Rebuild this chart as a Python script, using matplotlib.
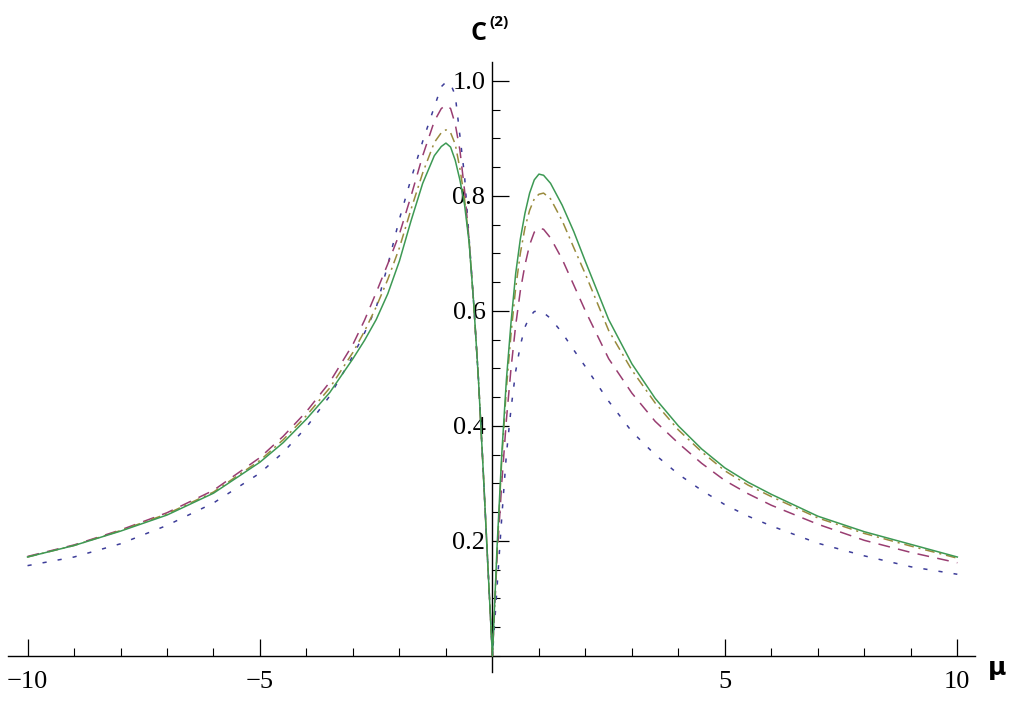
import matplotlib.pyplot as plt
from matplotlib.ticker import FixedLocator, MultipleLocator

plt.rcParams['lines.scale_dashes'] = False

# values (x = mu, y = C(2))
x_left = [-10, -9, -8, -7, -6, -5, -4.5, -4, -3.5, -3, -2.75, -2.5, -2.25, -2, -1.75,
          -1.5, -1.25, -1.1, -1.0, -0.9, -0.8, -0.7, -0.6, -0.5, -0.4, -0.3, -0.2, -0.1, 0]
x_right = [0, 0.1, 0.2, 0.3, 0.4, 0.5, 0.6, 0.7, 0.8, 0.9, 1.0, 1.1, 1.25, 1.5,
           1.75, 2, 2.5, 3, 3.5, 4, 4.5, 5, 5.5, 6, 7, 8, 9, 10]

blue_left = [0.157, 0.172, 0.195, 0.227, 0.266, 0.318, 0.354, 0.398, 0.452, 0.522,
             0.562, 0.606, 0.68, 0.76, 0.83, 0.895, 0.955, 0.99, 0.998, 0.995, 0.975,
             0.905, 0.835, 0.725, 0.61, 0.48, 0.325, 0.16, 0.0]
purple_left = [0.173, 0.193, 0.219, 0.249, 0.288, 0.345, 0.382, 0.425, 0.476, 0.542,
               0.584, 0.632, 0.682, 0.734, 0.80, 0.87, 0.93, 0.952, 0.958, 0.952,
               0.925, 0.88, 0.81, 0.722, 0.61, 0.48, 0.325, 0.16, 0.0]
olive_left = [0.172, 0.192, 0.218, 0.247, 0.285, 0.34, 0.376, 0.418, 0.466, 0.528,
              0.565, 0.607, 0.655, 0.71, 0.777, 0.84, 0.893, 0.91, 0.915, 0.91,
              0.89, 0.848, 0.795, 0.72, 0.61, 0.48, 0.325, 0.16, 0.0]
green_left = [0.172, 0.192, 0.217, 0.245, 0.283, 0.337, 0.371, 0.412, 0.458, 0.517,
              0.549, 0.585, 0.63, 0.687, 0.757, 0.822, 0.870, 0.886, 0.892, 0.885,
              0.862, 0.828, 0.785, 0.718, 0.61, 0.48, 0.325, 0.16, 0.0]

blue_right = [0.0, 0.12, 0.24, 0.35, 0.43, 0.495, 0.54, 0.572, 0.59, 0.599, 0.6,
              0.597, 0.587, 0.562, 0.532, 0.503, 0.443, 0.39, 0.35, 0.316, 0.288,
              0.263, 0.243, 0.226, 0.196, 0.174, 0.155, 0.142]
purple_right = [0.0, 0.17, 0.30, 0.41, 0.50, 0.575, 0.635, 0.68, 0.715, 0.737, 0.744,
                0.742, 0.727, 0.69, 0.645, 0.60, 0.517, 0.457, 0.408, 0.37, 0.335,
                0.305, 0.282, 0.262, 0.229, 0.201, 0.180, 0.162]
olive_right = [0.0, 0.18, 0.34, 0.465, 0.56, 0.64, 0.70, 0.745, 0.775, 0.795, 0.803,
               0.805, 0.795, 0.757, 0.71, 0.664, 0.566, 0.497, 0.44, 0.393, 0.355,
               0.322, 0.297, 0.277, 0.240, 0.213, 0.191, 0.170]
green_right = [0.0, 0.19, 0.35, 0.48, 0.58, 0.665, 0.725, 0.77, 0.805, 0.828, 0.838,
               0.836, 0.822, 0.784, 0.738, 0.686, 0.585, 0.508, 0.448, 0.40, 0.36,
               0.327, 0.302, 0.281, 0.243, 0.216, 0.194, 0.172]

x_ticks = [-10, -5, 5, 10]
y_ticks = [0.2, 0.4, 0.6, 0.8, 1.0]

fig = plt.figure(figsize=(10.23, 7.17), dpi=100)
ax = fig.add_axes([8 / 1023, 45 / 717, 967 / 1023, 610 / 717])

styles = [
    (blue_left, blue_right, '#3d3d99', (0, (3, 8))),
    (purple_left, purple_right, '#993d71', (0, (8.5, 6))),
    (olive_left, olive_right, '#998b3d', (0, (7, 3.5, 1.5, 3.5))),
    (green_left, green_right, '#3d9954', '-'),
]
for yl, yr, col, ls in styles:
    ax.plot(x_left + x_right, yl + yr, color=col, linestyle=ls, lw=1.1, zorder=3)

ax.set_xlim(-10.42, 10.38)
ax.set_ylim(-0.028, 1.033)

ax.spines['left'].set_position(('data', 0))
ax.spines['bottom'].set_position(('data', 0))
ax.spines['top'].set_visible(False)
ax.spines['right'].set_visible(False)
for s in ('left', 'bottom'):
    ax.spines[s].set_linewidth(1.0)

ax.xaxis.set_major_locator(FixedLocator(x_ticks))
ax.xaxis.set_minor_locator(MultipleLocator(1))
ax.yaxis.set_major_locator(FixedLocator(y_ticks))
ax.yaxis.set_minor_locator(MultipleLocator(0.05))
ax.set_xticklabels(['\u221210', '\u22125', '5', '10'])
ax.set_yticklabels(['0.2', '0.4', '0.6', '0.8', '1.0'])

ax.tick_params(which='major', direction='in', length=12, width=0.9)
ax.tick_params(which='minor', direction='in', length=6, width=0.8)
ax.tick_params(axis='x', pad=11)
ax.tick_params(axis='y', pad=5)
for lab in ax.get_xticklabels() + ax.get_yticklabels():
    lab.set_fontfamily('Liberation Serif')
    lab.set_fontsize(19)

fig.text(471 / 1023, 1 - 33 / 717, 'C', fontsize=18, fontweight='bold',
         family='Open Sans', ha='left', va='center')
fig.text(489 / 1023, 1 - 22 / 717, '(2)', fontsize=11, fontweight='bold',
         family='Open Sans', ha='left', va='center')
fig.text(997 / 1023, 1 - 668 / 717, '\u03bc', fontsize=18, fontweight='bold',
         family='DejaVu Sans', ha='center', va='center')

plt.savefig('out.png', dpi=100)
